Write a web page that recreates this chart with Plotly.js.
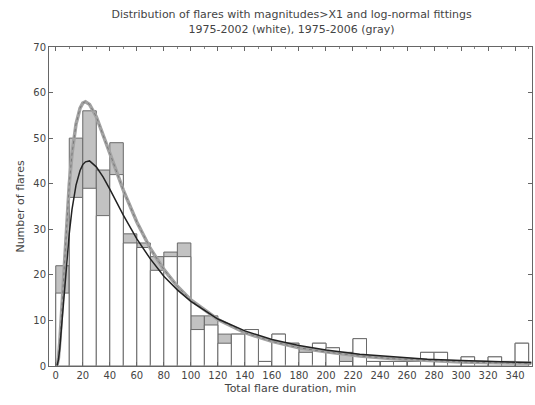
<!DOCTYPE html>
<html>
<head>
<meta charset="utf-8">
<script src="https://cdn.plot.ly/plotly-3.0.1.min.js"></script>
<style>html,body{margin:0;padding:0;background:#fff;}#chart{width:535px;height:405px;}</style>
</head>
<body>
<div id="chart"></div>
<script>
// Histogram bins (minutes, start of each 10-min bin)
const binStart = [0,10,20,30,40,50,60,70,80,90,100,110,120,130,140,150,160,170,180,190,200,210,220,230,240,250,260,270,280,290,300,310,320,330,340];
// 1975-2006 (gray)
const grayCounts = [22,50,56,43,49,29,27,24,25,27,11,11,7,7,8,1,7,5,4,5,4,3,6,1,1,1,1,3,3,1,2,1,2,1,5];
// 1975-2002 (white)
const whiteCounts = [16,37,39,33,42,27,26,21,24,24,8,9,5,7,8,1,7,5,3,5,4,1,6,1,1,1,1,3,3,1,2,1,2,1,5];
// Log-normal fitting curves
const fitX = [1,2,3,5,8,10,12,15,18,20,22,25,30,35,40,50,60,70,80,90,100,120,140,160,180,200,225,250,275,300,325,352];
const grayFit = [0.2,1.8,5.3,15.4,31.3,39.9,46.5,53.1,56.6,57.7,58.0,57.4,54.7,50.9,46.7,38.6,31.6,25.8,21.2,17.5,14.5,10.2,7.3,5.4,4.0,3.1,2.2,1.6,1.2,0.9,0.7,0.6];
const whiteFit = [0.1,1.4,3.9,11.1,22.7,29.1,34.3,39.7,42.9,44.2,44.8,45.0,43.7,41.5,38.8,33.1,27.9,23.5,19.7,16.7,14.2,10.3,7.7,5.8,4.5,3.5,2.6,2.0,1.5,1.2,0.95,0.75];
const xTicks = [0,20,40,60,80,100,120,140,160,180,200,220,240,260,280,300,320,340];
const yTicks = [0,10,20,30,40,50,60,70];

const font = "DejaVu Sans, sans-serif";
const traces = [
  {type:'bar', x:binStart, y:grayCounts, width:10, offset:0,
   marker:{color:'#c2c2c2', line:{color:'#6a6a6a', width:1}}, hoverinfo:'skip'},
  {type:'bar', x:binStart, y:whiteCounts, width:10, offset:0,
   marker:{color:'#ffffff', line:{color:'#6a6a6a', width:1}}, hoverinfo:'skip'},
  {type:'scatter', mode:'lines', x:fitX, y:grayFit,
   line:{color:'#a3a3a3', width:3.5}},
  {type:'scatter', mode:'lines', x:fitX, y:grayFit,
   line:{color:'#7a7a7a', width:1, dash:'dot'}},
  {type:'scatter', mode:'lines', x:fitX, y:whiteFit,
   line:{color:'#222222', width:1.5}}
];

const layout = {
  width:535, height:405,
  margin:{l:49, r:3, t:47, b:39},
  paper_bgcolor:'#ffffff', plot_bgcolor:'#ffffff',
  showlegend:false, barmode:'overlay',
  font:{family:font, size:10, color:'#444'},
  title:{text:'Distribution of flares with magnitudes>X1 and log-normal fittings<br>1975-2002 (white), 1975-2006 (gray)',
         x:0.545, xanchor:'center', yref:'container', y:0.955, yanchor:'top',
         font:{family:font, size:11, color:'#444'}},
  xaxis:{range:[-5,352.5], tickvals:xTicks, ticktext:xTicks.map(String),
         ticks:'inside', ticklen:4, tickcolor:'#666', showline:true, linecolor:'#666', linewidth:1,
         mirror:'ticks', showgrid:false, zeroline:false,
         minor:{dtick:10, tick0:0, ticks:'inside', ticklen:2, tickcolor:'#888'},
         tickfont:{family:font, size:10, color:'#444'},
         title:{text:'Total flare duration, min', font:{family:font, size:11, color:'#444'}, standoff:4}},
  yaxis:{range:[0,70], tickvals:yTicks, ticktext:yTicks.map(String),
         ticks:'inside', ticklen:4, tickcolor:'#666', showline:true, linecolor:'#666', linewidth:1,
         mirror:'ticks', showgrid:false, zeroline:false,
         tickfont:{family:font, size:10, color:'#444'},
         title:{text:'Number of flares', font:{family:font, size:11, color:'#444'}, standoff:6}}
};

Plotly.newPlot('chart', traces, layout, {displayModeBar:false, staticPlot:true});
</script>
</body>
</html>
